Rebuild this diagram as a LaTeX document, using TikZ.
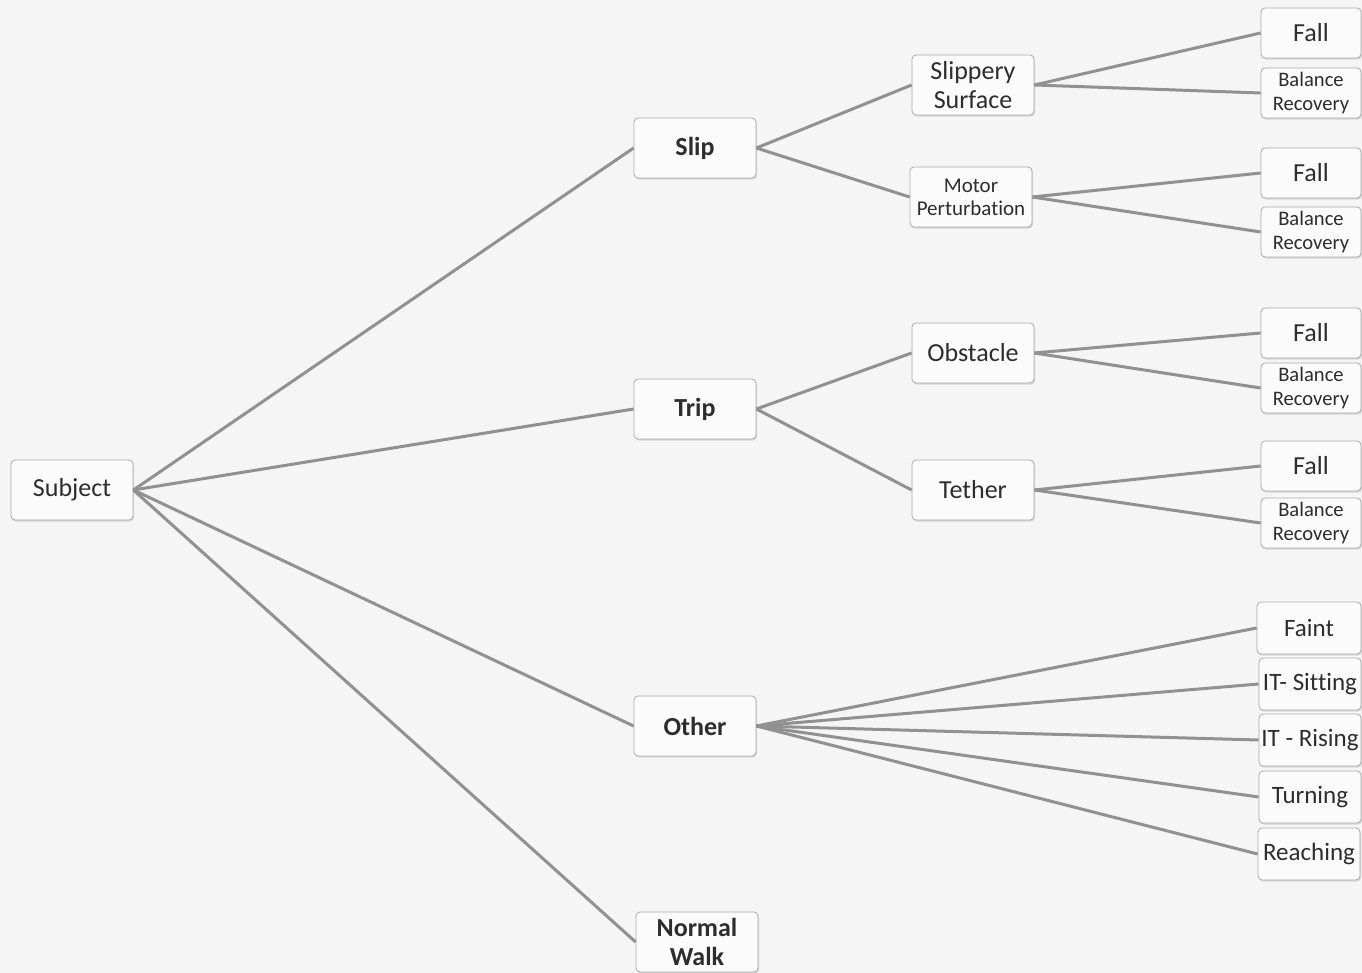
\documentclass[tikz,border=0pt]{standalone}
\usepackage{fontspec}
\setmainfont{Carlito}[RawFeature=-liga]
\usetikzlibrary{shadows}
\definecolor{bgcol}{RGB}{245,245,245}
\definecolor{linecol}{RGB}{145,145,145}
\definecolor{boxline}{RGB}{170,170,170}
\definecolor{txtcol}{RGB}{45,45,45}

\begin{document}
\begin{tikzpicture}[x=0.5pt, y=-0.5pt,
	main/.style = {draw=boxline, fill=white!97!gray, rounded corners=2pt, drop shadow={shadow xshift=0.5pt, shadow yshift=-0.8pt, opacity=0.25}, text=txtcol, align=center, inner sep=0pt, minimum width=61pt, minimum height=30pt, font=\fontsize{13}{14.5}\selectfont},
	head/.style = {main, font=\fontsize{13}{14.5}\selectfont\bfseries},
	small/.style = {main, font=\fontsize{10.5}{11.5}\selectfont},
	leaf/.style = {main, minimum width=50pt, minimum height=25pt},
	leafsmall/.style = {leaf, font=\fontsize{10.3}{12}\selectfont},
	act/.style = {leaf, minimum width=51pt, minimum height=26pt, font=\fontsize{12.5}{14}\selectfont},
	edge/.style = {draw=linecol, line width=1.5pt}]
			\fill[bgcol] (0,0) rectangle (1362,973);
			\useasboundingbox (0,0) rectangle (1362,973);
			% first level
			\node[main] (subj) at (72,490) {Subject};
			\node[head] (slip) at (695,148) {Slip};
			\node[head] (trip) at (695,409) {Trip};
			\node[head] (other) at (695,726) {Other};
			\node[head] (walk) at (697,942) {Normal\\Walk};
			% second level
			\node[main] (surf) at (973,85) {Slippery\\Surface};
			\node[small] (motor) at (971,197) {Motor\\Perturbation};
			\node[main] (obst) at (973,353) {Obstacle};
			\node[main] (teth) at (973,490) {Tether};
			% outcomes
			\node[leaf] (fall1) at (1311,33) {Fall};
			\node[leafsmall] (bal1) at (1311,93) {Balance\\Recovery};
			\node[leaf] (fall2) at (1311,173) {Fall};
			\node[leafsmall] (bal2) at (1311,232) {Balance\\Recovery};
			\node[leaf] (fall3) at (1311,333) {Fall};
			\node[leafsmall] (bal3) at (1311,388) {Balance\\Recovery};
			\node[leaf] (fall4) at (1311,466) {Fall};
			\node[leafsmall] (bal4) at (1311,523) {Balance\\Recovery};
			\node[act, minimum width=52pt] (faint) at (1309,628) {Faint};
			\node[act] (sit) at (1310,684) {IT- Sitting};
			\node[act] (rise) at (1310,740) {IT - Rising};
			\node[act] (turn) at (1310,797) {Turning};
			\node[act] (reach) at (1309,854) {Reaching};
			% connectors
			\draw[edge] (subj.east) -- (slip.west);
			\draw[edge] (subj.east) -- (trip.west);
			\draw[edge] (subj.east) -- (other.west);
			\draw[edge] (subj.east) -- (walk.west);
			\draw[edge] (slip.east) -- (surf.west);
			\draw[edge] (slip.east) -- (motor.west);
			\draw[edge] (trip.east) -- (obst.west);
			\draw[edge] (trip.east) -- (teth.west);
			\draw[edge] (surf.east) -- (fall1.west);
			\draw[edge] (surf.east) -- (bal1.west);
			\draw[edge] (motor.east) -- (fall2.west);
			\draw[edge] (motor.east) -- (bal2.west);
			\draw[edge] (obst.east) -- (fall3.west);
			\draw[edge] (obst.east) -- (bal3.west);
			\draw[edge] (teth.east) -- (fall4.west);
			\draw[edge] (teth.east) -- (bal4.west);
			\draw[edge] (other.east) -- (faint.west);
			\draw[edge] (other.east) -- (sit.west);
			\draw[edge] (other.east) -- (rise.west);
			\draw[edge] (other.east) -- (turn.west);
			\draw[edge] (other.east) -- (reach.west);
		\end{tikzpicture}
\end{document}
